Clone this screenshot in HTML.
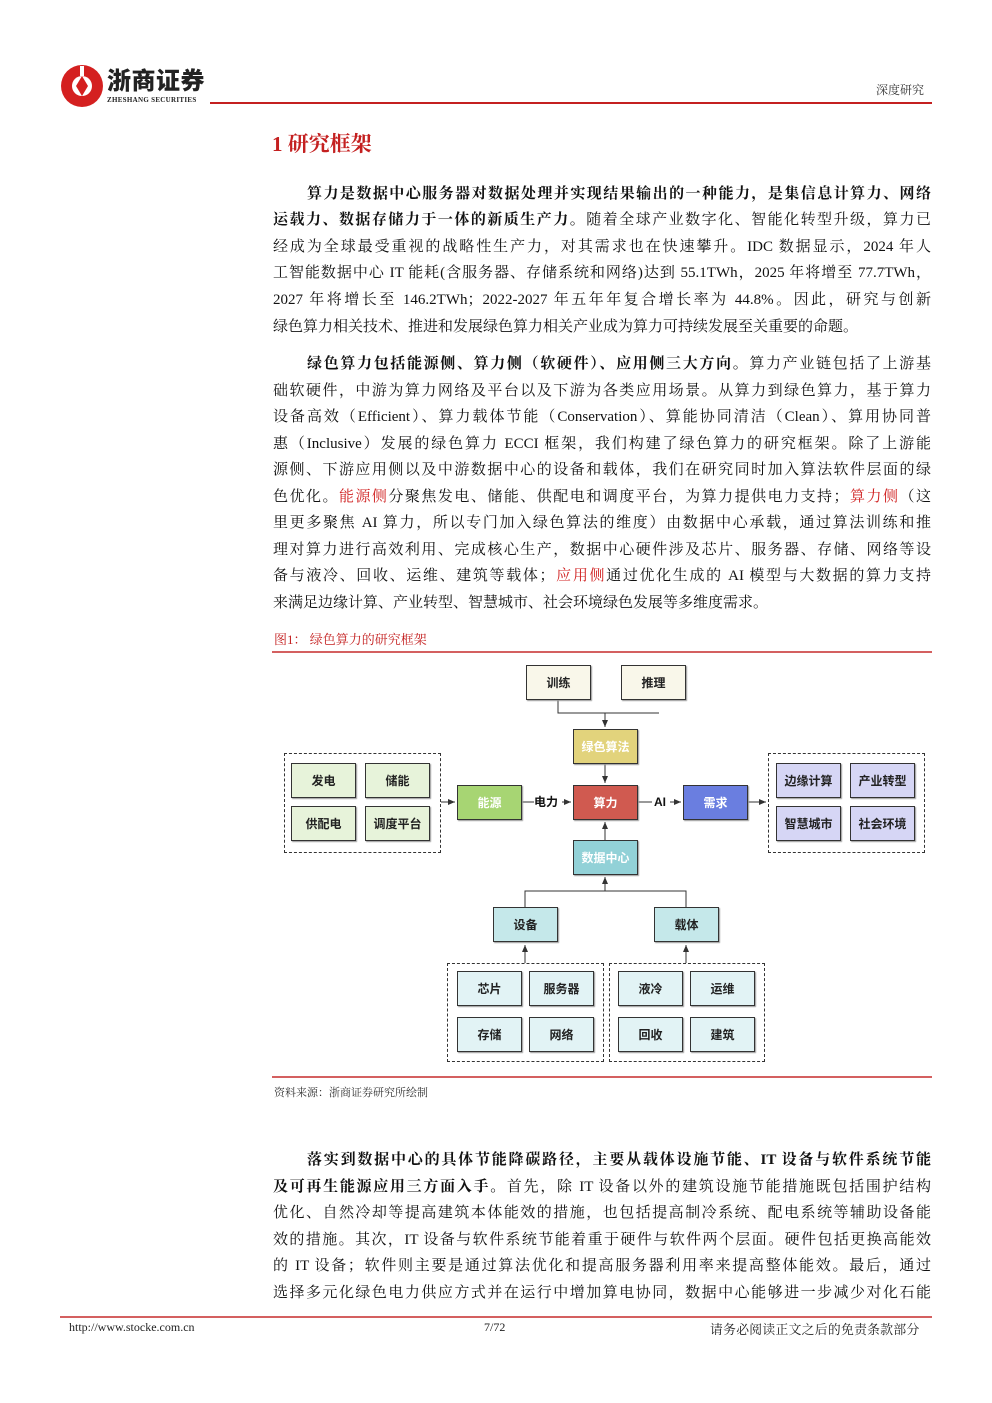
<!DOCTYPE html>
<html><head><meta charset="utf-8">
<style>
*{margin:0;padding:0;box-sizing:border-box}
body{width:992px;height:1403px;background:#fff;position:relative;overflow:hidden;font-family:"Liberation Serif","Noto Serif CJK SC",serif;color:#111}
.a{position:absolute}
.ln{position:absolute;left:273px;width:658px;font-size:15px;line-height:20px;height:20px;text-align:justify;text-align-last:justify;white-space:nowrap;overflow:visible}
.ln.l{text-align-last:left}
b{font-weight:bold}
.r{color:#d02020}
.bx{position:absolute;width:65px;height:35px;border:1.5px solid #333;font-family:"Liberation Sans","Noto Sans CJK SC",sans-serif;font-size:12px;font-weight:bold;display:flex;align-items:center;justify-content:center;color:#222;box-shadow:1px 1px 1px #999}
.w{color:#fff}
.dash{position:absolute;border:1.5px dashed #333}
</style></head><body>
<svg class="a" style="left:60px;top:64px" width="44" height="44" viewBox="0 0 44 44"><circle cx="22" cy="22" r="21" fill="#d42020"/><circle cx="22" cy="22" r="10" fill="#fff"/><path d="M22 12 L28 22 L22 32 L16 22Z" fill="#d42020"/><rect x="20" y="2" width="4" height="10" fill="#fff"/></svg>
<div class="a" style="left:107px;top:64px;font-family:'Noto Sans CJK SC',sans-serif;font-weight:900;font-size:24px;line-height:30px;color:#222;letter-spacing:0.5px">浙商证券</div>
<div class="a" style="left:107px;top:96px;font-size:7px;letter-spacing:0.3px;color:#222;font-weight:bold">ZHESHANG SECURITIES</div>
<div class="a" style="left:210px;top:102px;width:722px;height:2px;background:#c42020"></div>
<div class="a" style="left:876px;top:81px;font-size:12px;color:#333">深度研究</div>
<div class="a" style="left:272px;top:128px;font-size:21px;font-weight:bold;color:#c42020;font-family:'Liberation Serif','Noto Serif CJK SC',serif">1 研究框架</div>

<div class="ln" style="top:184px;text-indent:34px"><b>算力是数据中心服务器对数据处理并实现结果输出的一种能力，是集信息计算力、网络</b></div>
<div class="ln" style="top:210px"><b>运载力、数据存储力于一体的新质生产力。</b>随着全球产业数字化、智能化转型升级，算力已</div>
<div class="ln" style="top:237px">经成为全球最受重视的战略性生产力，对其需求也在快速攀升。IDC 数据显示，2024 年人</div>
<div class="ln" style="top:263px">工智能数据中心 IT 能耗(含服务器、存储系统和网络)达到 55.1TWh，2025 年将增至 77.7TWh，</div>
<div class="ln" style="top:290px">2027 年将增长至 146.2TWh；2022-2027 年五年年复合增长率为 44.8%。因此，研究与创新</div>
<div class="ln l" style="top:317px">绿色算力相关技术、推进和发展绿色算力相关产业成为算力可持续发展至关重要的命题。</div>

<div class="ln" style="top:354px;text-indent:34px"><b>绿色算力包括能源侧、算力侧（软硬件）、应用侧三大方向。</b>算力产业链包括了上游基</div>
<div class="ln" style="top:381px">础软硬件，中游为算力网络及平台以及下游为各类应用场景。从算力到绿色算力，基于算力</div>
<div class="ln" style="top:407px">设备高效（Efficient）、算力载体节能（Conservation）、算能协同清洁（Clean）、算用协同普</div>
<div class="ln" style="top:434px">惠（Inclusive）发展的绿色算力 ECCI 框架，我们构建了绿色算力的研究框架。除了上游能</div>
<div class="ln" style="top:460px">源侧、下游应用侧以及中游数据中心的设备和载体，我们在研究同时加入算法软件层面的绿</div>
<div class="ln" style="top:487px">色优化。<span class="r">能源侧</span>分聚焦发电、储能、供配电和调度平台，为算力提供电力支持；<span class="r">算力侧</span>（这</div>
<div class="ln" style="top:513px">里更多聚焦 AI 算力，所以专门加入绿色算法的维度）由数据中心承载，通过算法训练和推</div>
<div class="ln" style="top:540px">理对算力进行高效利用、完成核心生产，数据中心硬件涉及芯片、服务器、存储、网络等设</div>
<div class="ln" style="top:566px">备与液冷、回收、运维、建筑等载体；<span class="r">应用侧</span>通过优化生成的 AI 模型与大数据的算力支持</div>
<div class="ln l" style="top:593px">来满足边缘计算、产业转型、智慧城市、社会环境绿色发展等多维度需求。</div>

<div class="a" style="left:274px;top:629px;font-size:13px;color:#c42020">图1：&nbsp;绿色算力的研究框架</div>
<div class="a" style="left:272px;top:651px;width:660px;height:1.5px;background:#d46060"></div>

<svg class="a" style="left:0;top:0" width="992" height="1403">
<defs><marker id="ar" markerWidth="8" markerHeight="8" refX="7" refY="4" orient="auto"><path d="M0,1 L7,4 L0,7Z" fill="#333"/></marker></defs>
<g stroke="#333" stroke-width="1" fill="none">
<path d="M558 700 V713 H659"/>
<path d="M605 713 V727" marker-end="url(#ar)"/>
<path d="M605 764 V783" marker-end="url(#ar)"/>
<path d="M441 802 H455" marker-end="url(#ar)"/>
<path d="M522 802 H534"/><path d="M562 802 H571" marker-end="url(#ar)"/>
<path d="M638 802 H652"/><path d="M670 802 H681" marker-end="url(#ar)"/>
<path d="M748 802 H766" marker-end="url(#ar)"/>
<path d="M605 840 V822" marker-end="url(#ar)"/>
<path d="M525 907 V891 H686 V907"/>
<path d="M605 891 V877" marker-end="url(#ar)"/>
<path d="M525 963 V945" marker-end="url(#ar)"/>
<path d="M686 963 V945" marker-end="url(#ar)"/>
</g></svg>
<div class="a" style="left:534px;top:794px;font-family:'Liberation Sans','Noto Sans CJK SC',sans-serif;font-size:12px;font-weight:bold;line-height:16px;background:#fff">电力</div>
<div class="a" style="left:654px;top:794px;font-family:'Liberation Sans',sans-serif;font-size:12px;font-weight:bold;line-height:16px;background:#fff">AI</div>

<div class="bx" style="left:526px;top:665px;background:#f9f7ea">训练</div>
<div class="bx" style="left:621px;top:665px;background:#f9f7ea">推理</div>
<div class="bx w" style="left:573px;top:729px;background:#e2d37c">绿色算法</div>
<div class="bx w" style="left:457px;top:785px;background:#a7d573">能源</div>
<div class="bx w" style="left:573px;top:785px;background:#d05a50">算力</div>
<div class="bx w" style="left:683px;top:785px;background:#6a7ee0">需求</div>
<div class="bx w" style="left:573px;top:840px;background:#92d1d7">数据中心</div>
<div class="bx" style="left:493px;top:907px;background:#c5e8ea">设备</div>
<div class="bx" style="left:654px;top:907px;background:#c5e8ea">载体</div>

<div class="dash" style="left:284px;top:753px;width:157px;height:100px"></div>
<div class="bx" style="left:291px;top:763px;background:#e7f3da">发电</div>
<div class="bx" style="left:365px;top:763px;background:#e7f3da">储能</div>
<div class="bx" style="left:291px;top:806px;background:#e7f3da">供配电</div>
<div class="bx" style="left:365px;top:806px;background:#e7f3da">调度平台</div>

<div class="dash" style="left:768px;top:753px;width:157px;height:100px"></div>
<div class="bx" style="left:776px;top:763px;background:#d6d6f5">边缘计算</div>
<div class="bx" style="left:850px;top:763px;background:#d6d6f5">产业转型</div>
<div class="bx" style="left:776px;top:806px;background:#d6d6f5">智慧城市</div>
<div class="bx" style="left:850px;top:806px;background:#d6d6f5">社会环境</div>

<div class="dash" style="left:447px;top:963px;width:157px;height:99px"></div>
<div class="dash" style="left:609px;top:963px;width:156px;height:99px"></div>
<div class="bx" style="left:457px;top:971px;background:#e2f3f5">芯片</div>
<div class="bx" style="left:529px;top:971px;background:#e2f3f5">服务器</div>
<div class="bx" style="left:457px;top:1017px;background:#e2f3f5">存储</div>
<div class="bx" style="left:529px;top:1017px;background:#e2f3f5">网络</div>
<div class="bx" style="left:618px;top:971px;background:#e2f3f5">液冷</div>
<div class="bx" style="left:690px;top:971px;background:#e2f3f5">运维</div>
<div class="bx" style="left:618px;top:1017px;background:#e2f3f5">回收</div>
<div class="bx" style="left:690px;top:1017px;background:#e2f3f5">建筑</div>

<div class="a" style="left:272px;top:1076px;width:660px;height:1.5px;background:#d46060"></div>
<div class="a" style="left:274px;top:1084px;font-size:11px;color:#333">资料来源：浙商证券研究所绘制</div>

<div class="ln" style="top:1150px;text-indent:34px"><b>落实到数据中心的具体节能降碳路径，主要从载体设施节能、IT 设备与软件系统节能</b></div>
<div class="ln" style="top:1177px"><b>及可再生能源应用三方面入手。</b>首先，除 IT 设备以外的建筑设施节能措施既包括围护结构</div>
<div class="ln" style="top:1203px">优化、自然冷却等提高建筑本体能效的措施，也包括提高制冷系统、配电系统等辅助设备能</div>
<div class="ln" style="top:1230px">效的措施。其次，IT 设备与软件系统节能着重于硬件与软件两个层面。硬件包括更换高能效</div>
<div class="ln" style="top:1256px">的 IT 设备；软件则主要是通过算法优化和提高服务器利用率来提高整体能效。最后，通过</div>
<div class="ln" style="top:1283px">选择多元化绿色电力供应方式并在运行中增加算电协同，数据中心能够进一步减少对化石能</div>

<div class="a" style="left:60px;top:1316px;width:872px;height:1.5px;background:#d46060"></div>
<div class="a" style="left:69px;top:1320px;font-size:12px;color:#222">http://www.stocke.com.cn</div>
<div class="a" style="left:484px;top:1320px;font-size:12px;color:#222">7/72</div>
<div class="a" style="left:710px;top:1319px;font-size:12.8px;letter-spacing:0.3px;color:#222">请务必阅读正文之后的免责条款部分</div>
</body></html>
